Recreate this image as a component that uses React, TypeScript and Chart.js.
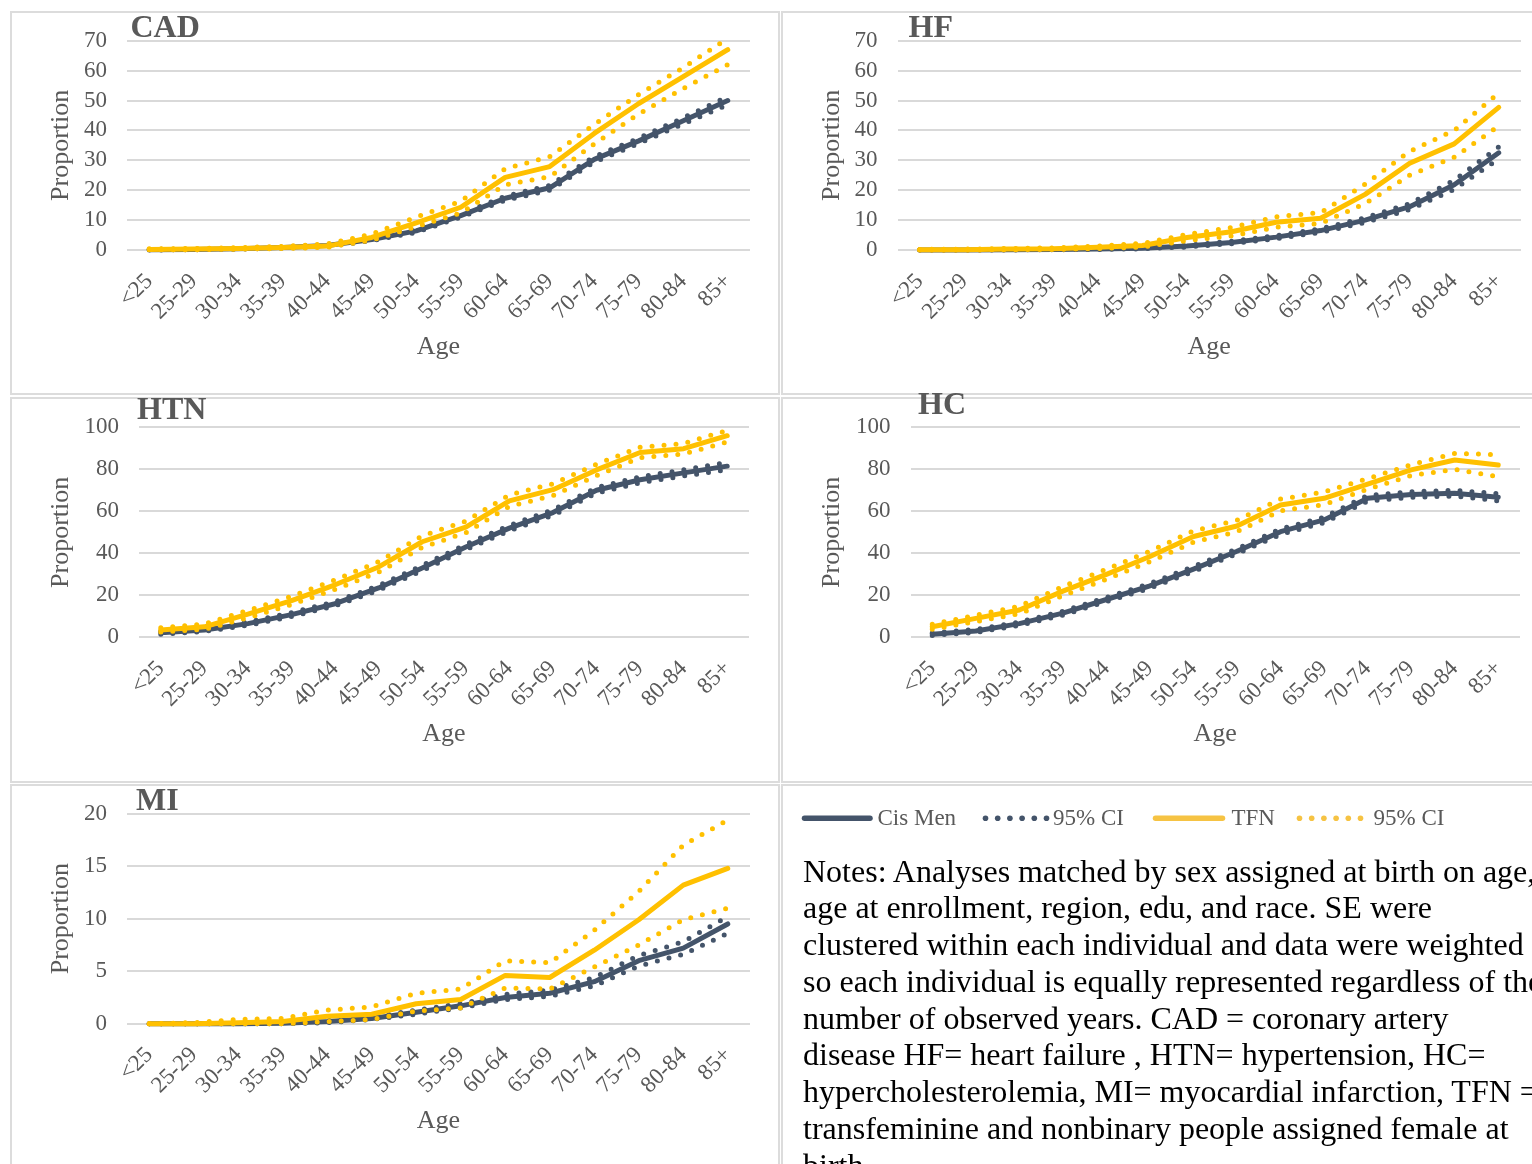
import React, { useEffect, useRef } from 'react';
import { Chart, registerables } from 'chart.js';

Chart.register(...registerables);

// Age bands shared by every panel
const AGE_GROUPS = ['<25', '25-29', '30-34', '35-39', '40-44', '45-49', '50-54', '55-59', '60-64', '65-69', '70-74', '75-79', '80-84', '85+'];

// Coronary artery disease
const CAD_CIS = [0.1, 0.2, 0.4, 0.8, 1.5, 3.5, 6.4, 11.5, 17.3, 20.8, 30.3, 36.5, 43.2, 50.0];
const CAD_CIS_LO = [0, 0.1, 0.3, 0.6, 1.2, 3.1, 5.9, 11.0, 16.6, 20.0, 29.4, 35.6, 42.2, 48.6];
const CAD_CIS_HI = [0.2, 0.3, 0.5, 1.0, 1.8, 3.9, 6.9, 12.0, 18.0, 21.6, 31.2, 37.4, 44.2, 51.3];
const CAD_TFN = [0.2, 0.3, 0.5, 0.8, 1.3, 4.2, 9.1, 14.3, 24.3, 27.9, 39.0, 49.0, 58.0, 67.0];
const CAD_TFN_LO = [0.1, 0.1, 0.3, 0.5, 0.9, 3.3, 7.8, 12.4, 21.8, 24.5, 35.5, 45.5, 54.0, 62.0];
const CAD_TFN_HI = [0.4, 0.5, 0.8, 1.2, 2.0, 5.3, 11.0, 16.3, 27.2, 31.2, 42.0, 52.0, 61.0, 70.8];

// Heart failure
const HF_CIS = [0, 0, 0.1, 0.2, 0.3, 0.6, 1.3, 2.5, 4.3, 6.5, 10.0, 14.5, 21.8, 32.5];
const HF_CIS_LO = [0, 0, 0, 0.1, 0.2, 0.4, 1.0, 2.1, 3.8, 5.9, 9.2, 13.5, 20.3, 30.5];
const HF_CIS_HI = [0.1, 0.1, 0.2, 0.3, 0.4, 0.8, 1.6, 2.9, 4.8, 7.1, 10.8, 15.5, 23.3, 34.5];
const HF_TFN = [0.1, 0.1, 0.3, 0.4, 0.9, 1.5, 4.2, 6.1, 9.3, 10.6, 18.6, 29.0, 35.5, 47.7];
const HF_TFN_LO = [0, 0, 0.1, 0.2, 0.5, 1.0, 3.1, 4.7, 7.6, 8.9, 15.5, 25.0, 31.0, 41.5];
const HF_TFN_HI = [0.2, 0.3, 0.5, 0.7, 1.3, 2.2, 5.2, 7.5, 11.1, 12.5, 22.0, 33.0, 40.0, 52.5];

// Hypertension
const HTN_CIS = [2.2, 3.5, 6.5, 10.8, 16.0, 23.5, 33.0, 43.0, 52.0, 59.4, 70.0, 75.0, 78.3, 81.5];
const HTN_CIS_LO = [1.5, 2.8, 5.7, 9.9, 15.0, 22.4, 31.8, 41.8, 50.7, 58.1, 68.7, 73.6, 76.8, 79.8];
const HTN_CIS_HI = [2.9, 4.2, 7.3, 11.7, 17.0, 24.6, 34.2, 44.2, 53.3, 60.7, 71.3, 76.4, 79.8, 83.2];
const HTN_TFN = [3.5, 5.0, 11.0, 17.5, 25.0, 33.5, 45.5, 52.5, 65.0, 70.3, 79.7, 88.0, 89.8, 96.0];
const HTN_TFN_LO = [2.5, 3.8, 9.3, 15.6, 22.8, 31.0, 42.8, 49.8, 62.3, 67.5, 77.0, 85.5, 87.3, 93.0];
const HTN_TFN_HI = [4.6, 6.3, 12.8, 19.5, 27.3, 36.0, 48.3, 55.3, 67.8, 73.1, 82.4, 90.5, 92.3, 98.5];

// Hypercholesterolemia
const HC_CIS = [1.5, 3.0, 6.5, 11.5, 18.0, 24.5, 32.5, 41.0, 50.3, 55.9, 66.2, 68.0, 68.6, 66.7];
const HC_CIS_LO = [0.9, 2.3, 5.7, 10.6, 17.0, 23.4, 31.3, 39.8, 49.0, 54.6, 64.8, 66.7, 67.2, 65.0];
const HC_CIS_HI = [2.1, 3.7, 7.3, 12.4, 19.0, 25.6, 33.7, 42.2, 51.6, 57.2, 67.6, 69.3, 70.0, 68.4];
const HC_TFN = [5.0, 9.0, 13.0, 22.0, 30.0, 38.5, 48.0, 53.0, 63.0, 66.2, 72.9, 79.7, 84.4, 82.0];
const HC_TFN_LO = [3.8, 7.5, 11.2, 19.8, 27.6, 36.0, 45.3, 50.3, 60.2, 63.2, 70.5, 77.0, 80.0, 76.5];
const HC_TFN_HI = [6.2, 10.5, 14.8, 24.2, 32.4, 41.0, 50.7, 55.7, 65.8, 69.2, 75.5, 82.2, 87.5, 87.0];

// Myocardial infarction
const MI_CIS = [0, 0, 0, 0.05, 0.2, 0.5, 1.1, 1.7, 2.5, 2.9, 4.0, 6.0, 7.2, 9.5];
const MI_CIS_LO = [0, 0, 0, 0, 0.1, 0.4, 0.9, 1.5, 2.3, 2.6, 3.6, 5.5, 6.6, 8.6];
const MI_CIS_HI = [0, 0, 0.05, 0.1, 0.3, 0.6, 1.3, 1.9, 2.8, 3.2, 4.4, 6.5, 7.8, 10.2];
const MI_TFN = [0, 0, 0.1, 0.2, 0.7, 0.9, 1.9, 2.3, 4.6, 4.4, 7.0, 9.9, 13.2, 14.8];
const MI_TFN_LO = [0, 0, 0, 0, 0.2, 0.4, 1.2, 1.5, 3.4, 3.3, 5.4, 7.5, 9.9, 11.0];
const MI_TFN_HI = [0, 0.1, 0.4, 0.5, 1.3, 1.6, 2.9, 3.3, 6.0, 5.8, 8.9, 12.6, 17.0, 19.4];

const LEGEND_ITEMS = ['Cis Men', '95% CI', 'TFN', '95% CI'];

const NOTE_LINES = [
  'Notes: Analyses matched by sex assigned at birth on age,',
  'age at enrollment, region, edu, and race. SE were',
  'clustered within each individual and data were weighted',
  'so each individual is equally represented regardless of the',
  'number of observed years. CAD = coronary artery',
  'disease HF= heart failure , HTN= hypertension, HC=',
  'hypercholesterolemia, MI= myocardial infarction, TFN =',
  'transfeminine and nonbinary people assigned female at',
  'birth',
];

const CIS_COLOR = '#44546A';
const TFN_COLOR = '#FFC000';
const TFN_LEGEND = '#F6C343';
const AXIS_TEXT = '#595959';
const GRID_COLOR = '#d9d9d9';
const PANEL_BORDER = '#dcdcdc';
const SERIF = '"Liberation Serif", "Times New Roman", Times, serif';
const BORDER = 2;
const X_AXIS_HEIGHT = 130;
const TICK_SIZE = 23;
const AXIS_TITLE_SIZE = 26;
const AXIS_TITLE_HALF = (AXIS_TITLE_SIZE * 1.2) / 2;

interface Rect { x: number; y: number; w: number; h: number; }
interface Area { l: number; t: number; r: number; b: number; }
interface PanelDef {
  name: string;
  outer: Rect;
  area: Area;
  titleX: number;
  titleBaseline: number;
  yMax: number;
  yStep: number;
  cis: number[]; cisLo: number[]; cisHi: number[];
  tfn: number[]; tfnLo: number[]; tfnHi: number[];
}

const PANELS: PanelDef[] = [
  {
    name: 'CAD', outer: { x: 10, y: 11, w: 770, h: 384 }, area: { l: 127, t: 40.7, r: 750, b: 250 },
    titleX: 130.5, titleBaseline: 36.7, yMax: 70, yStep: 10,
    cis: CAD_CIS, cisLo: CAD_CIS_LO, cisHi: CAD_CIS_HI, tfn: CAD_TFN, tfnLo: CAD_TFN_LO, tfnHi: CAD_TFN_HI,
  },
  {
    name: 'HF', outer: { x: 781, y: 11, w: 770, h: 384 }, area: { l: 897.5, t: 40.7, r: 1521, b: 250 },
    titleX: 908.5, titleBaseline: 36.7, yMax: 70, yStep: 10,
    cis: HF_CIS, cisLo: HF_CIS_LO, cisHi: HF_CIS_HI, tfn: HF_TFN, tfnLo: HF_TFN_LO, tfnHi: HF_TFN_HI,
  },
  {
    name: 'HTN', outer: { x: 10, y: 397, w: 770, h: 386 }, area: { l: 139, t: 427.3, r: 749, b: 637.3 },
    titleX: 137, titleBaseline: 418.5, yMax: 100, yStep: 20,
    cis: HTN_CIS, cisLo: HTN_CIS_LO, cisHi: HTN_CIS_HI, tfn: HTN_TFN, tfnLo: HTN_TFN_LO, tfnHi: HTN_TFN_HI,
  },
  {
    name: 'HC', outer: { x: 781, y: 397, w: 770, h: 386 }, area: { l: 910.5, t: 427.3, r: 1520, b: 637.3 },
    titleX: 918, titleBaseline: 413.5, yMax: 100, yStep: 20,
    cis: HC_CIS, cisLo: HC_CIS_LO, cisHi: HC_CIS_HI, tfn: HC_TFN, tfnLo: HC_TFN_LO, tfnHi: HC_TFN_HI,
  },
  {
    name: 'MI', outer: { x: 10, y: 784, w: 770, h: 400 }, area: { l: 127, t: 813.7, r: 750, b: 1023.7 },
    titleX: 136, titleBaseline: 810, yMax: 20, yStep: 5,
    cis: MI_CIS, cisLo: MI_CIS_LO, cisHi: MI_CIS_HI, tfn: MI_TFN, tfnLo: MI_TFN_LO, tfnHi: MI_TFN_HI,
  },
];

function solid(label: string, data: number[], color: string) {
  return {
    label, data, borderColor: color, backgroundColor: color, borderWidth: 5,
    borderCapStyle: 'round' as const, borderJoinStyle: 'round' as const,
    pointRadius: 0, tension: 0, fill: false, clip: false as const,
  };
}

function dotted(label: string, data: number[], color: string) {
  return {
    label, data, borderColor: color, backgroundColor: color, borderWidth: 5,
    borderDash: [0, 12], borderCapStyle: 'round' as const, borderJoinStyle: 'round' as const,
    pointRadius: 0, tension: 0, fill: false, clip: false as const,
  };
}

function PanelChart({ def }: { def: PanelDef }) {
  const ref = useRef<HTMLCanvasElement | null>(null);
  const inner: Rect = {
    x: def.outer.x + BORDER, y: def.outer.y + BORDER,
    w: def.outer.w - 2 * BORDER, h: def.outer.h - 2 * BORDER,
  };

  useEffect(() => {
    if (!ref.current) return;
    const axisWidth = def.area.l - inner.x;
    const padTop = def.area.t - inner.y;
    const padRight = inner.x + inner.w - def.area.r;
    const padBottom = inner.y + inner.h - def.area.b - X_AXIS_HEIGHT;

    const chart = new Chart(ref.current, {
      type: 'line',
      data: {
        labels: AGE_GROUPS,
        datasets: [
          solid('TFN', def.tfn, TFN_COLOR),
          dotted('TFN 95% CI upper', def.tfnHi, TFN_COLOR),
          dotted('TFN 95% CI lower', def.tfnLo, TFN_COLOR),
          solid('Cis Men', def.cis, CIS_COLOR),
          dotted('Cis Men 95% CI upper', def.cisHi, CIS_COLOR),
          dotted('Cis Men 95% CI lower', def.cisLo, CIS_COLOR),
        ],
      },
      options: {
        animation: false,
        responsive: true,
        maintainAspectRatio: false,
        layout: { padding: { top: padTop, right: padRight, bottom: padBottom, left: 0 } },
        plugins: { legend: { display: false }, tooltip: { enabled: false }, title: { display: false } },
        scales: {
          x: {
            offset: true,
            grid: { display: false, drawTicks: false },
            border: { display: false },
            ticks: {
              autoSkip: false, minRotation: 45, maxRotation: 45, padding: 18,
              color: AXIS_TEXT, font: { family: SERIF, size: TICK_SIZE },
            },
            title: {
              display: true, text: 'Age', color: AXIS_TEXT,
              font: { family: SERIF, size: AXIS_TITLE_SIZE, lineHeight: 1.2 },
              padding: { top: 0, bottom: X_AXIS_HEIGHT - AXIS_TITLE_HALF - 97 },
            },
            afterFit: (scale: any) => { scale.height = X_AXIS_HEIGHT; },
          },
          y: {
            min: 0, max: def.yMax,
            grid: {
              color: GRID_COLOR, lineWidth: 2,
              drawTicks: true, tickLength: 20, tickColor: 'rgba(0,0,0,0)',
            },
            border: { display: false },
            ticks: {
              stepSize: def.yStep, padding: 0,
              color: AXIS_TEXT, font: { family: SERIF, size: TICK_SIZE, lineHeight: 1 },
            },
            title: {
              display: true, text: 'Proportion', color: AXIS_TEXT,
              font: { family: SERIF, size: AXIS_TITLE_SIZE, lineHeight: 1.2 },
              padding: { top: 61 - 12 - AXIS_TITLE_HALF, bottom: 0 },
            },
            afterFit: (scale: any) => { scale.width = axisWidth; },
          },
        },
      },
    });
    return () => chart.destroy();
  }, []);

  return (
    <>
      <div
        style={{
          position: 'absolute', left: def.outer.x, top: def.outer.y,
          width: def.outer.w, height: def.outer.h, boxSizing: 'border-box',
          border: `${BORDER}px solid ${PANEL_BORDER}`, background: '#ffffff',
        }}
      />
      <div style={{ position: 'absolute', left: inner.x, top: inner.y, width: inner.w, height: inner.h }}>
        <canvas ref={ref} />
      </div>
      <div
        style={{
          position: 'absolute', left: def.titleX, top: def.titleBaseline - 26.8,
          fontFamily: SERIF, fontWeight: 'bold', fontSize: 32, lineHeight: '32px',
          color: AXIS_TEXT, whiteSpace: 'nowrap',
        }}
      >
        {def.name}
      </div>
    </>
  );
}

function LegendAndNotes() {
  const legendY = 818.3;
  const dotsA = [0, 1, 2, 3, 4, 5].map((i) => 985.5 + i * 12.2);
  const dotsB = [0, 1, 2, 3, 4, 5].map((i) => 1299.5 + i * 12.2);
  const textLefts = [877.5, 1053, 1231.5, 1373.5];
  return (
    <>
      <div
        style={{
          position: 'absolute', left: 781, top: 784, width: 770, height: 400,
          boxSizing: 'border-box', border: `${BORDER}px solid ${PANEL_BORDER}`, background: '#ffffff',
        }}
      />
      <svg style={{ position: 'absolute', left: 0, top: 0 }} width={1532} height={1164}>
        <line x1={804.5} y1={legendY} x2={870} y2={legendY} stroke={CIS_COLOR} strokeWidth={5.5} strokeLinecap="round" />
        {dotsA.map((cx, i) => (
          <circle key={`a${i}`} cx={cx} cy={legendY} r={2.8} fill={CIS_COLOR} />
        ))}
        <line x1={1155.5} y1={legendY} x2={1222.5} y2={legendY} stroke={TFN_LEGEND} strokeWidth={5.5} strokeLinecap="round" />
        {dotsB.map((cx, i) => (
          <circle key={`b${i}`} cx={cx} cy={legendY} r={2.8} fill={TFN_LEGEND} />
        ))}
      </svg>
      {LEGEND_ITEMS.map((txt, i) => (
        <div
          key={`l${i}`}
          style={{
            position: 'absolute', left: textLefts[i], top: 806.4,
            fontFamily: SERIF, fontSize: 23, lineHeight: '23px', color: AXIS_TEXT, whiteSpace: 'nowrap',
          }}
        >
          {txt}
        </div>
      ))}
      <div
        style={{
          position: 'absolute', left: 803, top: 852.5,
          fontFamily: SERIF, fontSize: 32, lineHeight: '36.75px', color: '#000000', whiteSpace: 'pre',
        }}
      >
        {NOTE_LINES.join('\n')}
      </div>
    </>
  );
}

export default function App() {
  return (
    <div
      style={{
        position: 'fixed', left: 0, top: 0, width: 1532, height: 1164,
        overflow: 'hidden', background: '#ffffff',
      }}
    >
      {PANELS.map((p) => (
        <PanelChart key={p.name} def={p} />
      ))}
      <LegendAndNotes />
    </div>
  );
}
